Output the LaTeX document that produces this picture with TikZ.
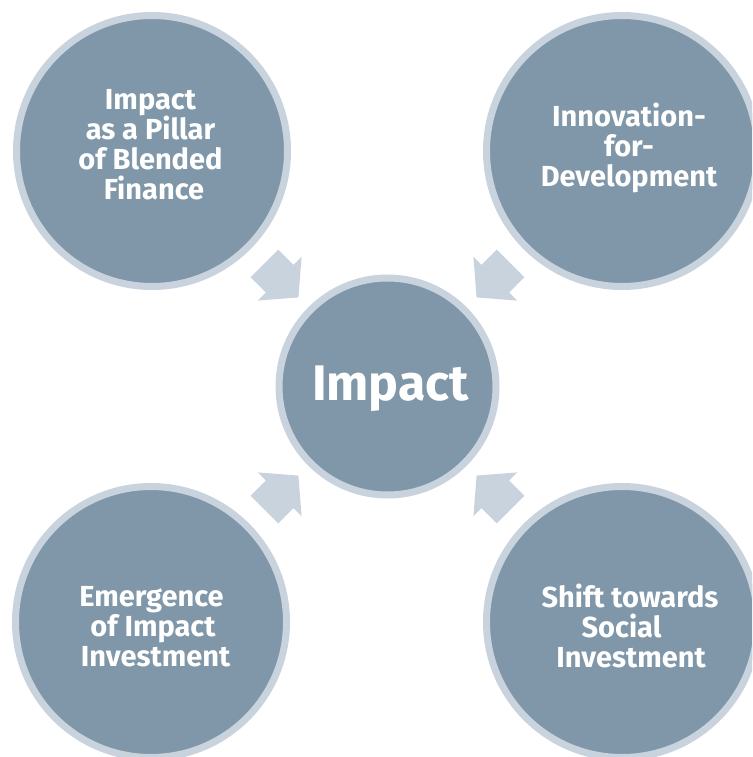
\documentclass[tikz,border=0pt]{standalone}
\usepackage{fontspec}
\setmainfont{Fira Sans}
\definecolor{fillc}{HTML}{7F97A8}
\definecolor{ringc}{HTML}{C8D3DD}
\tikzset{
  bigcircle/.style={circle, fill=fillc, draw=ringc, line width=7pt, minimum size=271pt, inner sep=0pt},
  hubcircle/.style={circle, fill=fillc, draw=ringc, line width=7pt, minimum size=217pt, inner sep=0pt},
  lbl/.style={text=white, align=center, inner sep=0pt, font=\fontsize{29}{30}\selectfont\bfseries},
  hublbl/.style={text=white, inner sep=0pt, anchor=base, font=\fontsize{50}{56}\selectfont\bfseries},
  blockarrow/.pic={\fill[ringc] (174,19.5) -- (152.5,19.5) -- (152.5,31) -- (126,0) -- (152.5,-31) -- (152.5,-19.5) -- (174,-19.5) -- cycle;}
}
\begin{document}
\begin{tikzpicture}[x=1pt,y=-1pt]
\useasboundingbox (0,0) rectangle (752,757);
\clip (0,0) rectangle (752,757);
\node[bigcircle] (c1) at (152,151) {};
\node[bigcircle] (c2) at (622,151) {};
\node[bigcircle] (c3) at (151,622) {};
\node[bigcircle] (c4) at (622,622) {};
\node[hubcircle] (hub) at (387.5,386.5) {};
\pic[rotate=135] at (hub.center) {blockarrow};
\pic[rotate=45] at (hub.center) {blockarrow};
\pic[rotate=-135] at (hub.center) {blockarrow};
\pic[rotate=-45] at (hub.center) {blockarrow};
\node[lbl] (t1) at (150.5,145) {Impact\\as a Pillar\\of Blended\\\hspace*{7pt}Finance};
\node[lbl] (t2) at (629,148) {Innovation-\\for-\\Development};
\node[lbl] (t3) at (153,626.5) {Emergence\kern3pt\null\\of Impact\\\hspace*{5pt}Investment};
\node[lbl] (t4) at (630,626) {Shift towards\\Social\kern17pt\null\\\hspace*{2pt}Investment};
\node[hublbl] (ht) at (390.5,400) {Impact};
\end{tikzpicture}
\end{document}
